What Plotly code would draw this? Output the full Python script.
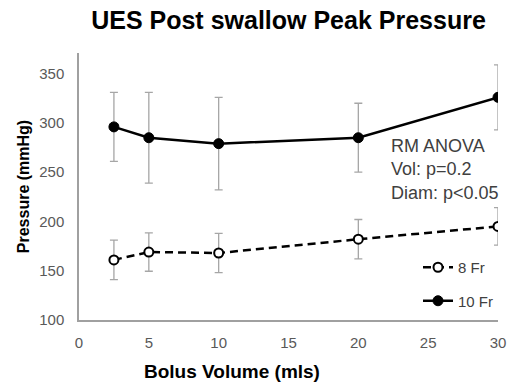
import plotly.graph_objects as go

volumes = [2.5, 5, 10, 20, 30]
fr8_mean = [161, 169, 168, 182, 195]
fr8_err = [20, 19.5, 20, 20, 19]
fr10_mean = [296, 285, 279, 285, 326]
fr10_err = [35, 46, 47, 35, 33]

x_ticks = [0, 5, 10, 15, 20, 25, 30]
y_ticks = [100, 150, 200, 250, 300, 350]

FONT = "Arial, Liberation Sans, sans-serif"
ERR_COLOR = "#a6a6a6"

fig = go.Figure()
fig.add_trace(go.Scatter(
    x=volumes, y=fr8_mean, name="8 Fr", mode="lines+markers",
    legendgroup="a",
    line=dict(color="black", width=2.5, dash="8px,5px"),
    marker=dict(symbol="circle", size=9, color="white", line=dict(color="black", width=2)),
    error_y=dict(type="data", array=fr8_err, visible=True, color=ERR_COLOR, thickness=1.3, width=4),
))
fig.add_trace(go.Scatter(
    x=volumes, y=fr10_mean, name="10 Fr", mode="lines+markers",
    legendgroup="b",
    line=dict(color="black", width=2.5),
    marker=dict(symbol="circle", size=10, color="black", line=dict(color="black", width=1)),
    error_y=dict(type="data", array=fr10_err, visible=True, color=ERR_COLOR, thickness=1.3, width=4),
))

fig.add_annotation(
    text="RM ANOVA<br>Vol: p=0.2<br>Diam: p<0.05",
    xref="paper", yref="paper", x=(389 - 79) / 419, y=(320 - 134) / 267,
    xanchor="left", yanchor="top", align="left", showarrow=False,
    font=dict(family=FONT, size=18, color="#404040"),
)
fig.add_annotation(
    text="<b>Bolus Volume (mls)</b>",
    xref="paper", yref="paper", x=(232 - 79) / 419, y=-(371 - 320) / 267,
    xanchor="center", yanchor="middle", showarrow=False,
    font=dict(family=FONT, size=19, color="black"),
)

fig.update_layout(
    width=518, height=386,
    margin=dict(l=79, r=20, t=53, b=66),
    paper_bgcolor="white", plot_bgcolor="white",
    font=dict(family=FONT, color="#595959"),
    title=dict(text="<b>UES Post swallow Peak Pressure</b>", xref="paper", x=0.5, xanchor="center",
               y=1 - 20 / 386, yanchor="middle", font=dict(family=FONT, size=25, color="black")),
    showlegend=True,
    legend=dict(x=(418 - 79) / 419, y=(320 - 251) / 267, xanchor="left", yanchor="top",
                traceorder="grouped", tracegroupgap=11, bgcolor="rgba(0,0,0,0)",
                font=dict(family=FONT, size=15, color="#404040")),
    xaxis=dict(range=[0, 30], tickvals=x_ticks, showgrid=False, zeroline=False,
               showline=True, linecolor="#a0a0a0", linewidth=1.5, ticks="",
               tickfont=dict(size=15, color="#595959"), ticklabelstandoff=8),
    yaxis=dict(range=[100, 371], tickvals=y_ticks, showgrid=False, zeroline=False,
               showline=True, linecolor="#a0a0a0", linewidth=1.5, ticks="",
               tickfont=dict(size=15, color="#595959"), ticklabelstandoff=10,
               title=dict(text="<b>Pressure (mmHg)</b>", font=dict(family=FONT, size=16, color="black"),
                          standoff=6)),
)

fig.write_html("out.html")
